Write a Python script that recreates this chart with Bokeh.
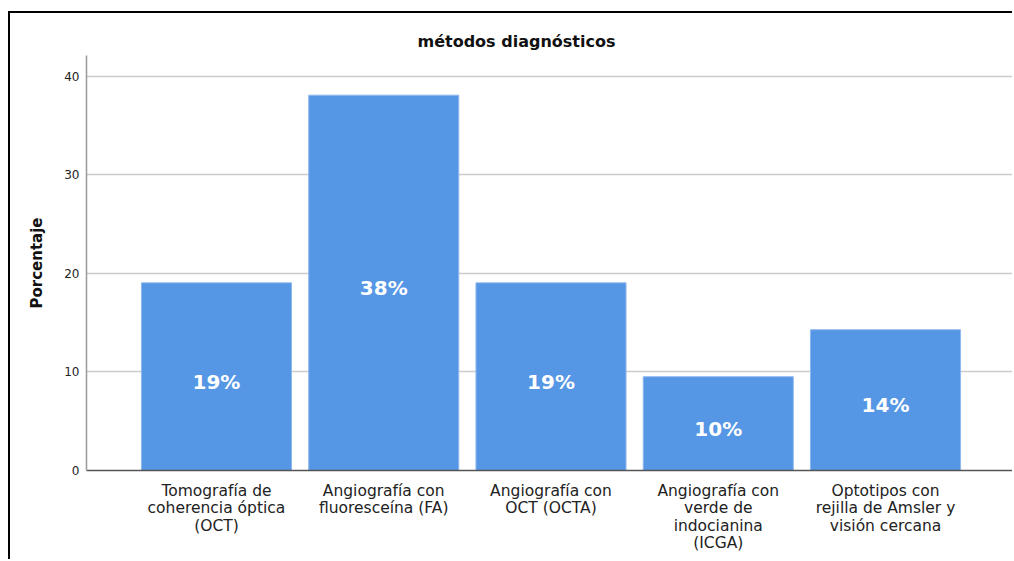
from bokeh.plotting import figure
from bokeh.models import Range1d, FixedTicker, ColumnDataSource, Title
from bokeh.core.properties import value
from bokeh.embed import file_html
from bokeh.resources import INLINE

categories = [
    "Tomografía de\ncoherencia óptica\n(OCT)",
    "Angiografía con\nfluoresceína (FA)",
    "Angiografía con\nOCT (OCTA)",
    "Angiografía con\nverde de\nindocianina\n(ICGA)",
    "Optotipos con\nrejilla de Amsler y\nvisión cercana",
]
percentages = [19.05, 38.10, 19.05, 9.52, 14.29]
bar_labels = ["19%", "38%", "19%", "10%", "14%"]
y_ticks = [0, 10, 20, 30, 40]

FONT = "DejaVu Sans"

xs = list(range(len(categories)))
src = ColumnDataSource(dict(
    x=xs,
    top=percentages,
    mid=[v / 2 for v in percentages],
    lab=bar_labels,
))

p = figure(
    width=1004, height=548,
    x_range=Range1d(-0.777, 4.771), y_range=Range1d(0, 42.13),
    output_backend="svg", toolbar_location=None,
    min_border_left=76, min_border_right=0, min_border_top=42, min_border_bottom=91,
)
p.styles = {"border-top": "2px solid black", "border-left": "2px solid black",
            "margin-top": "11px", "margin-left": "8px"}
p.outline_line_color = None
p.background_fill_color = "white"
p.border_fill_color = "white"

t = Title(text="métodos diagnósticos", align="left", offset=331,
          text_font=FONT, text_font_size="16px", text_font_style="bold", text_color="#111111")
p.add_layout(t, "above")

p.vbar(x="x", top="top", bottom=0, width=0.897, source=src,
       fill_color="#5596e5", line_color="#8db8ee", line_width=1)
p.text(x="x", y="mid", text="lab", source=src, text_align="center", text_baseline="middle",
       y_offset=5, text_color="white", text_font=value(FONT), text_font_size="20px",
       text_font_style="bold")

# y axis
ya = p.yaxis[0]
ya.ticker = FixedTicker(ticks=y_ticks)
ya.axis_label = "Porcentaje"
ya.axis_label_text_font = FONT
ya.axis_label_text_font_size = "15px"
ya.axis_label_text_font_style = "bold"
ya.axis_label_text_color = "#111111"
ya.axis_label_standoff = 15
ya.major_label_text_font = FONT
ya.major_label_text_font_size = "12px"
ya.major_label_text_color = "#222222"
ya.major_label_standoff = 7
ya.major_tick_in = 0
ya.major_tick_out = 0
ya.minor_tick_in = 0
ya.minor_tick_out = 0
ya.axis_line_color = "#999999"
ya.axis_line_width = 1.5

# x axis
xa = p.xaxis[0]
xa.ticker = FixedTicker(ticks=xs)
xa.major_label_overrides = {i: c for i, c in enumerate(categories)}
xa.major_label_text_font = FONT
xa.major_label_text_font_size = "15.5px"
xa.major_label_text_color = "#222222"
xa.major_label_text_line_height = 0.98
xa.major_label_standoff = 11
xa.major_tick_in = 0
xa.major_tick_out = 0
xa.minor_tick_in = 0
xa.minor_tick_out = 0
xa.axis_line_color = "#555555"
xa.axis_line_width = 1.5

p.xgrid.grid_line_color = None
p.ygrid.ticker = FixedTicker(ticks=[10, 20, 30, 40])
p.ygrid.grid_line_color = "#cccccc"
p.ygrid.grid_line_width = 1.5

open("out.html", "w").write(file_html(p, INLINE))
